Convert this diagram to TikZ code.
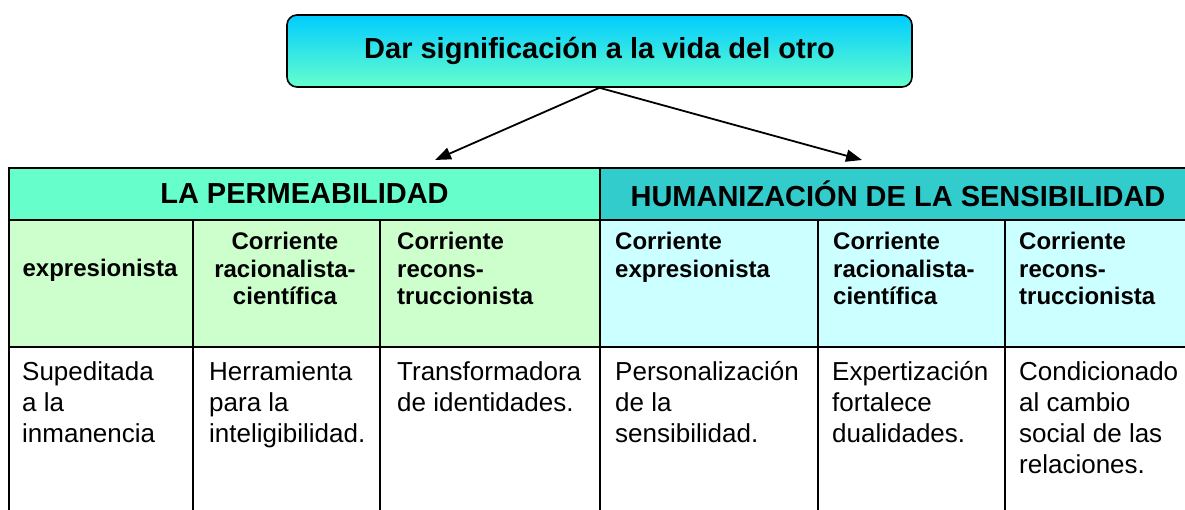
\documentclass[tikz,border=0pt]{standalone}
\usepackage{fontspec}
\setmainfont{Liberation Sans}
\usetikzlibrary{arrows.meta}

\definecolor{titletop}{RGB}{0,204,255}
\definecolor{titlebot}{RGB}{102,255,204}
\definecolor{hdleft}{RGB}{102,255,204}
\definecolor{hdright}{RGB}{51,204,204}
\definecolor{subleft}{RGB}{204,255,204}
\definecolor{subright}{RGB}{204,255,255}

\tikzset{
  cell/.style={draw=black, line width=2.4pt, anchor=north west, inner sep=0pt, outer sep=0pt},
  hdtext/.style={font=\fontsize{29}{33}\selectfont\bfseries},
  subtext/.style={font=\fontsize{24}{27.5}\selectfont\bfseries, inner sep=0pt, align=left, anchor=north west},
  bodytext/.style={font=\fontsize{26}{31}\selectfont, inner sep=0pt, align=left, anchor=north west},
  pointer/.style={-{Triangle[length=16pt,width=12pt]}, line width=1.8pt},
}

\begin{document}
\begin{tikzpicture}[x=1pt, y=-1pt]
    \useasboundingbox (0,0) rectangle (1185,510);
    \clip (0,0) rectangle (1185,510);

    % title box
    \node[draw=black, line width=1.6pt, rounded corners=10pt, top color=titletop, bottom color=titlebot,
          minimum width=625pt, minimum height=72pt, font=\fontsize{29}{33}\selectfont\bfseries]
          (title) at (599.5,51) {Dar significación a la vida del otro};

    \coordinate (tipL) at (435,160);
    \coordinate (tipR) at (862,160);
    \draw[pointer] (title.south) -- (tipL);
    \draw[pointer] (title.south) -- (tipR);

    % header row
    \node[cell, fill=hdleft, minimum width=591pt, minimum height=52pt, hdtext] (perm) at (9,168) {LA PERMEABILIDAD};
    \node[cell, fill=hdright, minimum width=600pt, minimum height=52pt] (human) at (600,168) {};
    \node[hdtext] (humantext) at (898,194) {HUMANIZACIÓN DE LA SENSIBILIDAD};

    % sub-header row
    \node[cell, fill=subleft, minimum width=184pt, minimum height=127pt] (sa) at (9,220) {};
    \node[cell, fill=subleft, minimum width=187pt, minimum height=127pt] (sb) at (193,220) {};
    \node[cell, fill=subleft, minimum width=220pt, minimum height=127pt] (sc) at (380,220) {};
    \node[cell, fill=subright, minimum width=218pt, minimum height=127pt] (sd) at (600,220) {};
    \node[cell, fill=subright, minimum width=187pt, minimum height=127pt] (se) at (818,220) {};
    \node[cell, fill=subright, minimum width=215pt, minimum height=127pt] (sf) at (1005,220) {};

    \node[subtext, anchor=center] (sat) at (100,270) {expresionista};
    \node[subtext, align=center, anchor=north] (sbt) at (285,232) {Corriente\\racionalista-\\científica};
    \node[subtext] (sct) at ([shift={(17,12)}]sc.north west) {Corriente\\recons-\\truccionista};
    \node[subtext] (sdt) at ([shift={(15,12)}]sd.north west) {Corriente\\expresionista};
    \node[subtext] (set) at ([shift={(15,12)}]se.north west) {Corriente\\racionalista-\\científica};
    \node[subtext] (sft) at ([shift={(14,12)}]sf.north west) {Corriente\\recons-\\truccionista};

    % body row
    \node[cell, fill=white, minimum width=184pt, minimum height=200pt] (ba) at (9,347) {};
    \node[cell, fill=white, minimum width=187pt, minimum height=200pt] (bb) at (193,347) {};
    \node[cell, fill=white, minimum width=220pt, minimum height=200pt] (bc) at (380,347) {};
    \node[cell, fill=white, minimum width=218pt, minimum height=200pt] (bd) at (600,347) {};
    \node[cell, fill=white, minimum width=187pt, minimum height=200pt] (be) at (818,347) {};
    \node[cell, fill=white, minimum width=215pt, minimum height=200pt] (bf) at (1005,347) {};

    \node[bodytext] (bat) at ([shift={(13,14)}]ba.north west) {Supeditada\\a la\\inmanencia};
    \node[bodytext] (bbt) at ([shift={(16,14)}]bb.north west) {Herramienta\\para la\\inteligibilidad.};
    \node[bodytext] (bct) at ([shift={(17,14)}]bc.north west) {Transformadora\\de identidades.};
    \node[bodytext] (bdt) at ([shift={(15,14)}]bd.north west) {Personalización\\de la\\sensibilidad.};
    \node[bodytext] (bet) at ([shift={(14,14)}]be.north west) {Expertización\\fortalece\\dualidades.};
    \node[bodytext] (bft) at ([shift={(14,14)}]bf.north west) {Condicionado\\al cambio\\social de las\\relaciones.};
\end{tikzpicture}
\end{document}
